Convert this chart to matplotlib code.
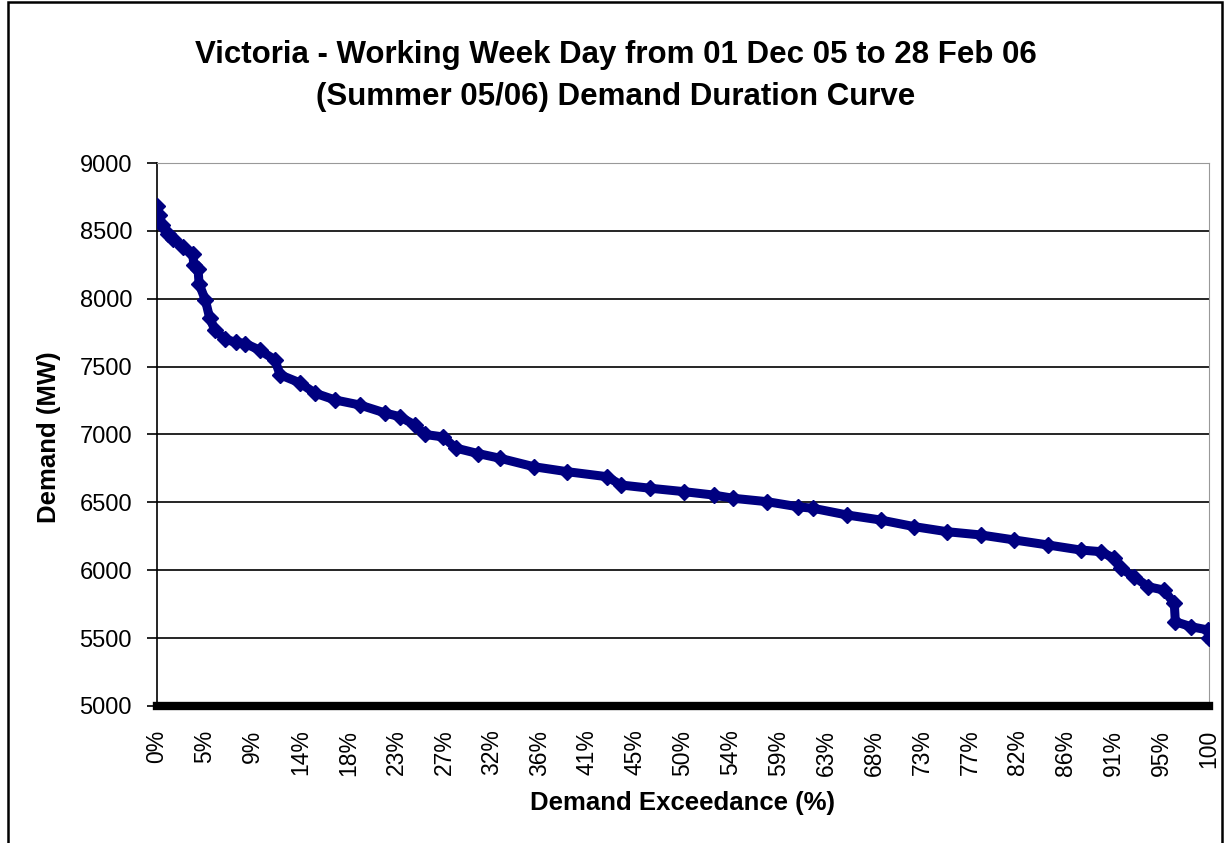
import matplotlib
matplotlib.use("Agg")
import matplotlib.pyplot as plt
from matplotlib.patches import Rectangle
import numpy as np

# demand exceedance (%) and demand (MW)
exceed_pct = [0, 0.2, 0.5, 1.0, 1.5, 2.5, 3.4, 3.5, 3.9, 4.0, 4.6, 5.0, 5.5,
              6.5, 7.5, 8.4, 9.8, 11.2, 11.7, 13.6, 15.0, 16.9, 19.3, 21.7,
              23.1, 24.5, 25.5, 27.2, 28.4, 30.5, 32.6, 35.8, 39.0, 42.8,
              44.1, 46.9, 50.1, 52.9, 54.8, 58.0, 60.9, 62.4, 65.6, 68.8,
              72.0, 75.1, 78.3, 81.5, 84.7, 87.8, 89.7, 91.0, 91.6, 92.9,
              94.2, 95.7, 96.7, 96.8, 98.3, 99.9, 100]
demand_mw = [8680, 8620, 8540, 8480, 8440, 8380, 8330, 8250, 8220, 8110, 7990,
             7860, 7770, 7700, 7680, 7670, 7620, 7550, 7440, 7380, 7305, 7255,
             7217, 7158, 7131, 7070, 7000, 6982, 6900, 6860, 6825, 6763, 6726,
             6689, 6628, 6604, 6579, 6554, 6530, 6505, 6468, 6456, 6407, 6370,
             6321, 6284, 6260, 6223, 6186, 6149, 6137, 6088, 6014, 5952, 5879,
             5854, 5756, 5621, 5584, 5560, 5499]

x_labels = ["0%", "5%", "9%", "14%", "18%", "23%", "27%", "32%", "36%", "41%",
            "45%", "50%", "54%", "59%", "63%", "68%", "73%", "77%", "82%",
            "86%", "91%", "95%", "100"]
y_ticks = [5000, 5500, 6000, 6500, 7000, 7500, 8000, 8500, 9000]

plt.rcParams["font.family"] = ["Liberation Sans", "DejaVu Sans"]

W, H = 1231, 843
fig = plt.figure(figsize=(W / 100, H / 100), dpi=100)
# outer chart frame
fig.add_artist(Rectangle((8 / W, -0.01), 1214 / W, 1.0 - 2 / H + 0.01,
                         transform=fig.transFigure, fill=False,
                         edgecolor="black", linewidth=1.8))

ax = fig.add_axes([157 / W, 1 - 706 / H, (1209 - 157) / W, (706 - 163) / H])

navy = "#000080"
ax.plot(exceed_pct, demand_mw, color=navy, linewidth=6.5, marker="D",
        markersize=8, markeredgecolor=navy, markerfacecolor=navy, zorder=3)

ax.set_xlim(0, 100)
ax.set_ylim(5000, 9000)
ax.set_yticks(y_ticks)
ax.set_yticklabels([str(v) for v in y_ticks], fontsize=17)
ax.set_xticks(np.linspace(0, 100, len(x_labels)))
ax.set_xticklabels(x_labels, rotation=90, fontsize=16.5, va="top")
ax.tick_params(axis="x", length=0, pad=17)
ax.tick_params(axis="y", length=7, width=1.2, direction="out", pad=11)

ax.grid(axis="y", color="black", linewidth=1.2)
ax.set_axisbelow(True)
ax.spines["left"].set_linewidth(1.2)
ax.spines["bottom"].set_linewidth(6)
ax.spines["right"].set_color("#999999")
ax.spines["top"].set_color("#999999")

fig.text(49 / W, 1 - 437 / H, "Demand (MW)", rotation=90,
         ha="center", va="center", fontsize=18.5, fontweight="bold")
fig.text(682 / W, 1 - 803 / H, "Demand Exceedance (%)",
         ha="center", va="center", fontsize=18.5, fontweight="bold")

fig.text(616 / W, 1 - 55 / H,
         "Victoria - Working Week Day from 01 Dec 05 to 28 Feb 06",
         ha="center", va="center", fontsize=22.5, fontweight="bold")
fig.text(616 / W, 1 - 97 / H,
         "(Summer 05/06) Demand Duration Curve",
         ha="center", va="center", fontsize=22.5, fontweight="bold")

fig.savefig("out.png", dpi=100)
